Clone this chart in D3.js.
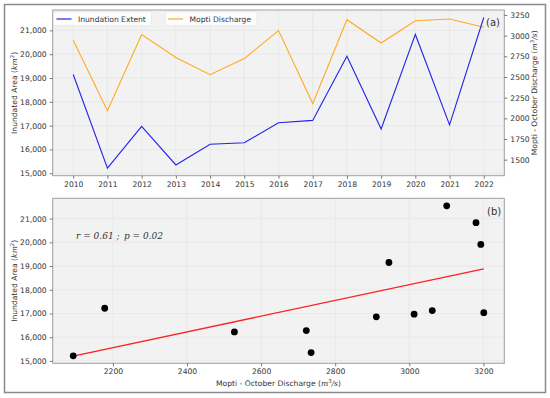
<!DOCTYPE html>
<html><head><meta charset="utf-8">
<script src="https://cdn.jsdelivr.net/npm/d3@7"></script>
<style>
body{margin:0;background:#fff;}
</style></head>
<body><svg id="c" width="550" height="398" font-family="DejaVu Sans, sans-serif"></svg>
<script>
const years = [2010,2011,2012,2013,2014,2015,2016,2017,2018,2019,2020,2021,2022];
const inundation = [19150,15215,16970,15350,16220,16280,17120,17220,19910,16860,20830,17035,21540];
const discharge = [2945,2093,3013,2735,2528,2722,3062,2178,3193,2911,3180,3201,3101];
const areaTicks = [15000,16000,17000,18000,19000,20000,21000];
const dischargeTicks = [1500,1750,2000,2250,2500,2750,3000,3250];
const scatterXTicks = [2200,2400,2600,2800,3000,3200];
const seriesNames = ["Inundation Extent","Mopti Discharge"];
const statsText = ["r = 0.61", "p = 0.02"];

const svg = d3.select("#c");
const fmt = d3.format(",");
const TXT = "#333";
const BG = "#f2f2f2", GRID = "#e2e2e2", SPINE = "#a0a0a0";
const FS = 7.6;
const SERIF = "DejaVu Serif, Liberation Serif, serif";

svg.append("rect").attr("x",4.5).attr("y",4.5).attr("width",541).attr("height",388)
  .attr("fill","#fff").attr("stroke","#8a8a8a").attr("stroke-width",1.5);

function unitLabel(g, pre, base, sup, post){
  const t = g.append("text").attr("font-size",FS).attr("fill",TXT).attr("text-anchor","middle");
  t.append("tspan").text(pre + " (");
  t.append("tspan").style("font-family",SERIF).style("font-style","italic").text(base);
  t.append("tspan").attr("font-size",FS*0.7).attr("dy",-3).text(sup);
  const p = t.append("tspan").attr("dy",3);
  if(post){ p.style("font-family",SERIF).style("font-style","italic").text(post); t.append("tspan").text(")"); }
  else p.text(")");
  return t;
}

function styleAxis(g){
  g.select(".domain").remove();
  g.selectAll(".tick line").attr("stroke","#555").attr("stroke-width",0.8);
  g.selectAll(".tick text").attr("fill",TXT).attr("font-size",FS).attr("font-family","DejaVu Sans, sans-serif");
}

// ---------------- Panel (a) ----------------
const A = {l:52.7, t:10, r:504.3, b:175.7};
const xa = d3.scaleLinear().domain([2009.4,2022.6]).range([A.l,A.r]);
const ya = d3.scaleLinear().domain([14899,21856]).range([A.b,A.t]);
const ya2 = d3.scaleLinear().domain([1306,3310]).range([A.b,A.t]);

const ga = svg.append("g");
ga.append("rect").attr("x",A.l).attr("y",A.t).attr("width",A.r-A.l).attr("height",A.b-A.t).attr("fill",BG);
ga.append("g").selectAll("line").data(years).join("line")
  .attr("x1",d=>xa(d)).attr("x2",d=>xa(d)).attr("y1",A.t).attr("y2",A.b)
  .attr("stroke",GRID).attr("stroke-width",0.6);
ga.append("g").selectAll("line").data(areaTicks).join("line")
  .attr("x1",A.l).attr("x2",A.r).attr("y1",d=>ya(d)).attr("y2",d=>ya(d))
  .attr("stroke",GRID).attr("stroke-width",0.6);

const lineA = d3.line().x((d,i)=>xa(years[i])).y(d=>ya(d));
const lineD = d3.line().x((d,i)=>xa(years[i])).y(d=>ya2(d));
ga.append("path").attr("d",lineD(discharge)).attr("fill","none").attr("stroke","#FFAA22").attr("stroke-width",1.1);
ga.append("path").attr("d",lineA(inundation)).attr("fill","none").attr("stroke","#2222ee").attr("stroke-width",1.1);

ga.append("rect").attr("x",A.l).attr("y",A.t).attr("width",A.r-A.l).attr("height",A.b-A.t)
  .attr("fill","none").attr("stroke",SPINE).attr("stroke-width",1);

ga.append("g").attr("transform",`translate(0,${A.b})`)
  .call(d3.axisBottom(xa).tickValues(years).tickFormat(d3.format("d")).tickSize(3).tickPadding(3)).call(styleAxis);
ga.append("g").attr("transform",`translate(${A.l},0)`)
  .call(d3.axisLeft(ya).tickValues(areaTicks).tickFormat(fmt).tickSize(3).tickPadding(3)).call(styleAxis);
ga.append("g").attr("transform",`translate(${A.r},0)`)
  .call(d3.axisRight(ya2).tickValues(dischargeTicks).tickFormat(d3.format("d")).tickSize(3).tickPadding(3)).call(styleAxis);

const legs = [{x:53.5,w:98,c:"#2222ee"},{x:165,w:92,c:"#FFAA22"}];
legs.forEach((L,i)=>{
  const g = ga.append("g");
  g.append("rect").attr("x",L.x).attr("y",11.7).attr("width",L.w).attr("height",14).attr("rx",1.5)
    .attr("fill","#fff").attr("fill-opacity",0.85).attr("stroke","#ddd").attr("stroke-width",0.6);
  g.append("line").attr("x1",L.x+3).attr("x2",L.x+18).attr("y1",19).attr("y2",19).attr("stroke",L.c).attr("stroke-width",1.2);
  g.append("text").attr("x",L.x+24.5).attr("y",21.6).attr("font-size",FS).attr("fill",TXT).text(seriesNames[i]);
});
ga.append("text").attr("x",486).attr("y",26).attr("font-size",10).attr("fill",TXT).text("(a)");

unitLabel(ga.append("g").attr("transform",`translate(17,${(A.t+A.b)/2}) rotate(-90)`), "Inundated Area", "km", "2", "");
unitLabel(ga.append("g").attr("transform",`translate(537,${(A.t+A.b)/2}) rotate(-90)`), "Mopti - October Discharge", "m", "3", "/s");

// ---------------- Panel (b) ----------------
const B = {l:52.7, t:198.3, r:504.3, b:363.3};
const xb = d3.scaleLinear().domain([2037.6,3256.4]).range([B.l,B.r]);
const yb = d3.scaleLinear().domain([14899,21856]).range([B.b,B.t]);
const gb = svg.append("g");
gb.append("rect").attr("x",B.l).attr("y",B.t).attr("width",B.r-B.l).attr("height",B.b-B.t).attr("fill",BG);
gb.append("g").selectAll("line").data(scatterXTicks).join("line")
  .attr("x1",d=>xb(d)).attr("x2",d=>xb(d)).attr("y1",B.t).attr("y2",B.b)
  .attr("stroke",GRID).attr("stroke-width",0.6);
gb.append("g").selectAll("line").data(areaTicks).join("line")
  .attr("x1",B.l).attr("x2",B.r).attr("y1",d=>yb(d)).attr("y2",d=>yb(d))
  .attr("stroke",GRID).attr("stroke-width",0.6);

const mx = d3.mean(discharge), my = d3.mean(inundation);
let sxy=0,sxx=0;
discharge.forEach((x,i)=>{sxy+=(x-mx)*(inundation[i]-my); sxx+=(x-mx)*(x-mx);});
const slope = sxy/sxx, icpt = my - slope*mx;
const x0 = d3.min(discharge), x1 = d3.max(discharge);
gb.append("line").attr("x1",xb(x0)).attr("y1",yb(icpt+slope*x0)).attr("x2",xb(x1)).attr("y2",yb(icpt+slope*x1))
  .attr("stroke","#ff2020").attr("stroke-width",1.3);

gb.append("g").selectAll("circle").data(discharge).join("circle")
  .attr("cx",d=>xb(d)).attr("cy",(d,i)=>yb(inundation[i])).attr("r",3.4).attr("fill","#000");

gb.append("rect").attr("x",B.l).attr("y",B.t).attr("width",B.r-B.l).attr("height",B.b-B.t)
  .attr("fill","none").attr("stroke",SPINE).attr("stroke-width",1);
gb.append("g").attr("transform",`translate(0,${B.b})`)
  .call(d3.axisBottom(xb).tickValues(scatterXTicks).tickFormat(d3.format("d")).tickSize(3).tickPadding(2)).call(styleAxis);
gb.append("g").attr("transform",`translate(${B.l},0)`)
  .call(d3.axisLeft(yb).tickValues(areaTicks).tickFormat(fmt).tickSize(3).tickPadding(3)).call(styleAxis);

gb.append("text").attr("x",487).attr("y",214.5).attr("font-size",10).attr("fill",TXT).text("(b)");
gb.append("text").attr("x",76).attr("y",238.5).attr("font-size",9).attr("fill",TXT)
  .style("font-family",SERIF).style("font-style","italic").text(statsText[0] + " ;");
gb.append("text").attr("x",124).attr("y",238.5).attr("font-size",9).attr("fill",TXT)
  .style("font-family",SERIF).style("font-style","italic").text(statsText[1]);
unitLabel(gb.append("g").attr("transform",`translate(17,${(B.t+B.b)/2}) rotate(-90)`), "Inundated Area", "km", "2", "");
unitLabel(gb.append("g").attr("transform",`translate(${(B.l+B.r)/2},386)`), "Mopti - October Discharge", "m", "3", "/s");
</script></body></html>
